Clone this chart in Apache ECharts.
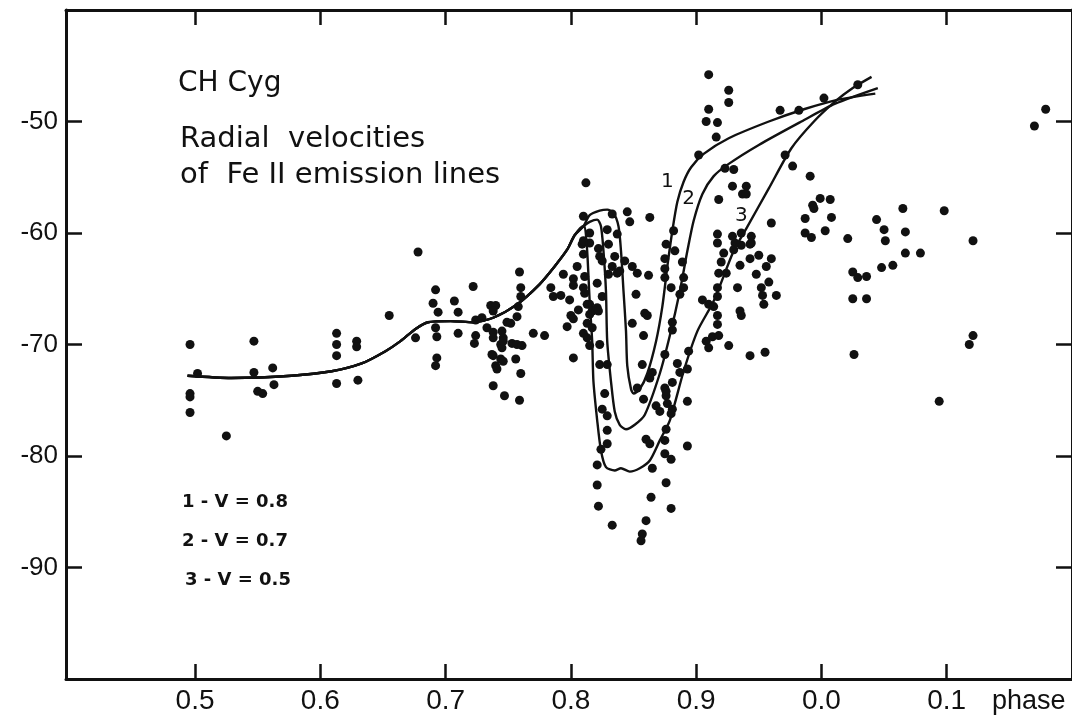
<!DOCTYPE html>
<html>
<head>
<meta charset="utf-8">
<title>CH Cyg radial velocities</title>
<script src="https://cdn.jsdelivr.net/npm/echarts@6/dist/echarts.min.js"></script>
<style>
  html, body { margin: 0; padding: 0; background: #fff; }
  #chart { width: 1072px; height: 717px; }
</style>
</head>
<body>
<div id="chart"></div>
<script>
// phase ticks and velocity ticks
var phaseTicks = [0.5, 0.6, 0.7, 0.8, 0.9, 1.0, 1.1];
var phaseLabels = ['0.5', '0.6', '0.7', '0.8', '0.9', '0.0', '0.1'];
var velTicks = [-50, -60, -70, -80, -90];

// observed Fe II velocities [phase, km/s]
var obsEarly = [
  [0.496,-70.0],[0.502,-72.6],[0.496,-74.4],[0.496,-74.7],[0.496,-76.1],[0.525,-78.2],
  [0.547,-69.7],[0.547,-72.5],[0.550,-74.2],[0.554,-74.4],[0.562,-72.1],[0.563,-73.6],
  [0.613,-69.0],[0.613,-70.0],[0.613,-71.0],[0.613,-73.5],[0.629,-69.7],[0.629,-70.2],[0.630,-73.2],
  [0.655,-67.4],[0.676,-69.4],[0.678,-61.7],[0.692,-65.1],[0.690,-66.3],[0.694,-67.1],[0.692,-68.5],
  [0.693,-69.3],[0.693,-71.2],[0.692,-71.9],[0.707,-66.1],[0.710,-67.1],[0.710,-69.0],
  [0.722,-64.8],[0.724,-67.8],[0.724,-69.2],[0.723,-69.9],[0.729,-67.6],[0.736,-66.5],[0.740,-66.5],
  [0.738,-67.0],[0.733,-68.5],[0.738,-68.9],[0.738,-69.4],[0.745,-68.8],[0.746,-69.4],[0.749,-68.0],
  [0.752,-68.1],[0.744,-70.0],[0.745,-70.3],[0.746,-69.7],[0.737,-70.9],[0.738,-71.0],[0.744,-71.3],
  [0.746,-71.5],[0.740,-71.9],[0.741,-72.2],[0.738,-73.7],[0.747,-74.6],[0.756,-71.3],[0.759,-75.0],
  [0.760,-72.6],[0.753,-69.9],[0.757,-70.0],[0.761,-70.1],[0.757,-67.5],[0.758,-66.6],[0.760,-65.7],
  [0.760,-64.9],[0.759,-63.5],[0.770,-69.0],[0.779,-69.2]
];
var obsDip = [
  [0.784,-64.9],[0.786,-65.7],[0.792,-65.6],[0.794,-63.7],[0.799,-66.0],[0.800,-67.4],[0.802,-67.7],
  [0.797,-68.4],[0.802,-71.2],[0.806,-66.9],[0.805,-63.0],[0.802,-64.1],[0.802,-64.7],[0.809,-61.0],
  [0.810,-61.9],[0.811,-63.9],[0.811,-65.4],[0.810,-69.0],[0.813,-69.4],[0.815,-70.1],[0.815,-66.4],
  [0.815,-67.3],[0.817,-67.0],[0.813,-68.1],[0.817,-68.5],[0.821,-64.5],[0.822,-61.4],[0.823,-62.1],
  [0.825,-62.5],[0.821,-66.7],[0.822,-67.0],[0.823,-70.0],[0.823,-71.8],[0.829,-71.8],[0.827,-74.4],
  [0.825,-75.8],[0.829,-76.4],[0.829,-77.7],[0.829,-78.9],[0.824,-79.4],[0.821,-80.8],[0.821,-82.6],
  [0.822,-84.5],[0.833,-86.2],[0.860,-85.8],[0.857,-87.0],[0.856,-87.6],[0.864,-83.7],[0.876,-82.4],
  [0.880,-84.7],[0.830,-61.0],[0.835,-62.1],[0.830,-63.7],[0.837,-63.6],[0.843,-62.5],[0.849,-63.0],
  [0.853,-63.6],[0.852,-65.5],[0.862,-63.8],[0.849,-68.1],[0.859,-67.2],[0.861,-67.4],[0.858,-69.2],
  [0.857,-71.8],[0.853,-73.9],[0.858,-74.9],[0.865,-72.5],[0.863,-73.0],[0.865,-81.1],[0.860,-78.5],
  [0.863,-78.9],[0.868,-75.5],[0.871,-76.0],[0.876,-77.6],[0.875,-78.6],[0.875,-79.8],[0.880,-80.3],
  [0.893,-79.1],[0.893,-75.1],[0.876,-74.6],[0.877,-75.3],[0.881,-75.8],[0.880,-76.2],[0.875,-73.9],
  [0.876,-74.2],[0.881,-73.4],[0.885,-71.7],[0.887,-72.5],[0.894,-70.6],[0.893,-72.2],[0.875,-70.9],
  [0.876,-61.0],[0.875,-62.3],[0.875,-63.2],[0.883,-61.6],[0.880,-64.9],[0.881,-68.0],[0.881,-68.7],
  [0.890,-64.0],[0.890,-64.9],[0.887,-65.5],[0.889,-62.6],[0.905,-66.0],[0.910,-66.4],[0.908,-69.7],
  [0.910,-70.3],[0.913,-69.3],[0.917,-67.4],[0.917,-68.2],[0.918,-69.2],[0.926,-70.1],
  [0.810,-58.5],[0.812,-55.5],[0.833,-58.3],[0.845,-58.1],[0.847,-59.0],[0.863,-58.6],[0.882,-59.8],
  [0.829,-59.7],[0.837,-60.1],[0.815,-60.0],[0.815,-60.9],[0.810,-60.7],[0.839,-63.4],[0.833,-63.0],
  [0.875,-64.0],[0.917,-64.9],[0.813,-66.4],[0.810,-64.9],[0.825,-65.7],[0.917,-60.1],[0.917,-60.9]
];
var obsLate = [
  [0.910,-45.8],[0.910,-48.9],[0.908,-50.0],[0.917,-50.1],[0.916,-51.4],[0.902,-53.0],[0.926,-47.2],
  [0.926,-48.3],[0.967,-49.0],[0.982,-49.0],[1.002,-47.9],[1.029,-46.7],[0.971,-53.0],[0.977,-54.0],
  [0.991,-54.9],[0.923,-54.2],[0.930,-54.3],[0.929,-55.8],[0.940,-55.8],[0.937,-56.5],[0.940,-56.5],
  [0.918,-57.0],[0.960,-59.1],[0.999,-56.9],[1.007,-57.0],[0.993,-57.5],[0.994,-57.8],[0.987,-58.7],
  [1.008,-58.6],[0.987,-60.0],[0.992,-60.4],[1.003,-59.8],[1.021,-60.5],[1.044,-58.8],[1.050,-59.7],
  [1.051,-60.7],[0.929,-60.3],[0.936,-60.0],[0.944,-60.3],[0.931,-60.9],[0.944,-60.9],[1.065,-57.8],
  [1.067,-59.9],[1.098,-58.0],[1.121,-60.7],[1.179,-48.9],[1.170,-50.4],
  [0.936,-61.1],[0.943,-61.0],[0.922,-61.8],[0.920,-62.6],[0.918,-63.6],[0.924,-63.6],[0.930,-61.5],
  [0.935,-62.9],[0.943,-62.3],[0.950,-62.0],[0.960,-62.3],[0.956,-63.0],[0.948,-63.7],[0.933,-64.9],
  [0.917,-65.7],[0.914,-66.6],[0.952,-64.9],[0.958,-64.4],[0.953,-65.6],[0.964,-65.6],[0.954,-66.4],
  [0.935,-67.0],[0.936,-67.4],[0.943,-71.0],[0.955,-70.7],[1.025,-63.5],[1.029,-64.0],[1.036,-63.9],
  [1.048,-63.1],[1.057,-62.9],[1.067,-61.8],[1.079,-61.8],[1.025,-65.9],[1.036,-65.9],[1.026,-70.9],
  [1.121,-69.2],[1.118,-70.0],[1.094,-75.1]
];

// model curves: shared rise, then three branches
var curveCommon = [
  [0.494,-72.8],[0.529,-73.0],[0.577,-72.8],[0.609,-72.4],[0.633,-71.7],[0.652,-70.6],[0.664,-69.7],
  [0.676,-68.6],[0.686,-68.0],[0.704,-67.9],[0.722,-68.0],[0.738,-67.6],[0.757,-66.4],[0.775,-64.6],
  [0.787,-63.0],[0.797,-61.5],[0.803,-60.2],[0.810,-59.4]
];
var curve1 = [
  [0.815,-58.4],[0.823,-58.0],[0.829,-57.9],[0.834,-58.2],[0.838,-59.4],[0.840,-61.6],[0.842,-65.2],
  [0.844,-68.8],[0.845,-71.9],[0.848,-74.0],[0.850,-74.4],[0.855,-74.0],[0.861,-72.6],[0.868,-69.7],
  [0.873,-66.6],[0.877,-63.0],[0.881,-59.8],[0.885,-57.2],[0.890,-55.4],[0.896,-54.1],[0.906,-52.9],
  [0.926,-51.5],[0.958,-50.0],[0.986,-48.9],[1.011,-48.1],[1.043,-47.5]
];
var curve2 = [
  [0.815,-59.0],[0.821,-58.8],[0.824,-59.4],[0.826,-61.6],[0.828,-65.2],[0.829,-69.7],[0.832,-73.3],
  [0.835,-76.0],[0.839,-77.2],[0.844,-77.6],[0.851,-77.2],[0.859,-76.3],[0.871,-72.6],[0.879,-69.2],
  [0.887,-65.2],[0.893,-61.6],[0.898,-58.9],[0.905,-56.5],[0.914,-54.9],[0.926,-53.8],[0.950,-52.1],
  [0.984,-50.0],[1.011,-48.4],[1.045,-47.0]
];
var curve3 = [
  [0.811,-59.4],[0.813,-61.6],[0.815,-66.1],[0.817,-69.7],[0.818,-73.3],[0.821,-76.8],[0.824,-79.5],
  [0.828,-81.0],[0.835,-81.3],[0.840,-81.1],[0.847,-81.4],[0.855,-81.1],[0.863,-80.4],[0.871,-78.6],
  [0.879,-76.8],[0.890,-72.4],[0.901,-68.8],[0.914,-66.1],[0.930,-61.6],[0.940,-59.6],[0.958,-56.0],
  [0.976,-52.4],[0.994,-50.0],[1.011,-48.2],[1.025,-47.0],[1.040,-46.0]
];
var curveTags = [['1', 0.877, -55.4], ['2', 0.894, -56.9], ['3', 0.936, -58.5]];

var ink = '#111';
var chart = echarts.init(document.getElementById('chart'));

function curveSeries(branch, tag) {
  return {
    type: 'line',
    data: curveCommon.concat(branch),
    showSymbol: false,
    smooth: 0.25,
    silent: true,
    lineStyle: { color: ink, width: 2.4 },
    markPoint: {
      symbol: 'circle',
      symbolSize: 0,
      label: { show: true, formatter: tag[0], color: ink, fontSize: 20, fontFamily: 'DejaVu Sans' },
      data: [{ coord: [tag[1], tag[2]] }]
    }
  };
}

function tickAxis(pos, showLabels) {
  return {
    type: 'value',
    position: pos,
    min: 0.397, max: 1.2,
    axisLine: { show: true, lineStyle: { color: ink, width: 3 } },
    axisTick: { show: true, inside: true, length: 15, customValues: phaseTicks, lineStyle: { color: ink, width: 2.5 } },
    splitLine: { show: false },
    axisLabel: {
      show: showLabels,
      customValues: phaseTicks,
      margin: 8,
      color: ink,
      fontSize: 28,
      fontFamily: 'Liberation Sans',
      formatter: function (v) {
        for (var i = 0; i < phaseTicks.length; i++) {
          if (Math.abs(phaseTicks[i] - v) < 1e-6) return phaseLabels[i];
        }
        return '';
      }
    }
  };
}

function velAxis(pos, showLabels) {
  return {
    type: 'value',
    position: pos,
    min: -100, max: -40, interval: 10,
    axisLine: { show: true, lineStyle: { color: ink, width: 3 } },
    axisTick: { show: true, inside: true, length: 16, lineStyle: { color: ink, width: 2.5 } },
    splitLine: { show: false },
    axisLabel: {
      show: showLabels,
      margin: 8,
      color: ink,
      fontSize: 26,
      fontFamily: 'Liberation Sans',
      formatter: function (v) {
        return velTicks.indexOf(v) >= 0 ? String(v) : '';
      }
    }
  };
}

chart.setOption({
  backgroundColor: '#fff',
  animation: false,
  grid: { left: 66, top: 10, width: 1014, height: 669 },
  xAxis: [tickAxis('bottom', true), tickAxis('top', false)],
  yAxis: [velAxis('left', true), velAxis('right', false)],
  graphic: [
    { type: 'text', left: 178, top: 70, style: { text: 'CH Cyg', font: '28px "DejaVu Sans"', fill: ink } },
    { type: 'text', left: 180, top: 125, style: { text: 'Radial  velocities', font: '29px "DejaVu Sans"', fill: ink } },
    { type: 'text', left: 180, top: 161, style: { text: 'of  Fe II emission lines', font: '29px "DejaVu Sans"', fill: ink } },
    { type: 'text', left: 182, top: 493, style: { text: '1 - V = 0.8', font: 'bold 18px "DejaVu Sans"', fill: ink } },
    { type: 'text', left: 182, top: 532, style: { text: '2 - V = 0.7', font: 'bold 18px "DejaVu Sans"', fill: ink } },
    { type: 'text', left: 185, top: 571, style: { text: '3 - V = 0.5', font: 'bold 18px "DejaVu Sans"', fill: ink } },
    { type: 'text', left: 992, top: 688, style: { text: 'phase', font: '27px "Liberation Sans"', fill: ink } }
  ],
  series: [
    {
      type: 'scatter',
      data: obsEarly.concat(obsDip, obsLate),
      symbolSize: 9,
      itemStyle: { color: ink, opacity: 1 },
      silent: true
    },
    curveSeries(curve1, curveTags[0]),
    curveSeries(curve2, curveTags[1]),
    curveSeries(curve3, curveTags[2])
  ]
});
</script>
</body>
</html>
